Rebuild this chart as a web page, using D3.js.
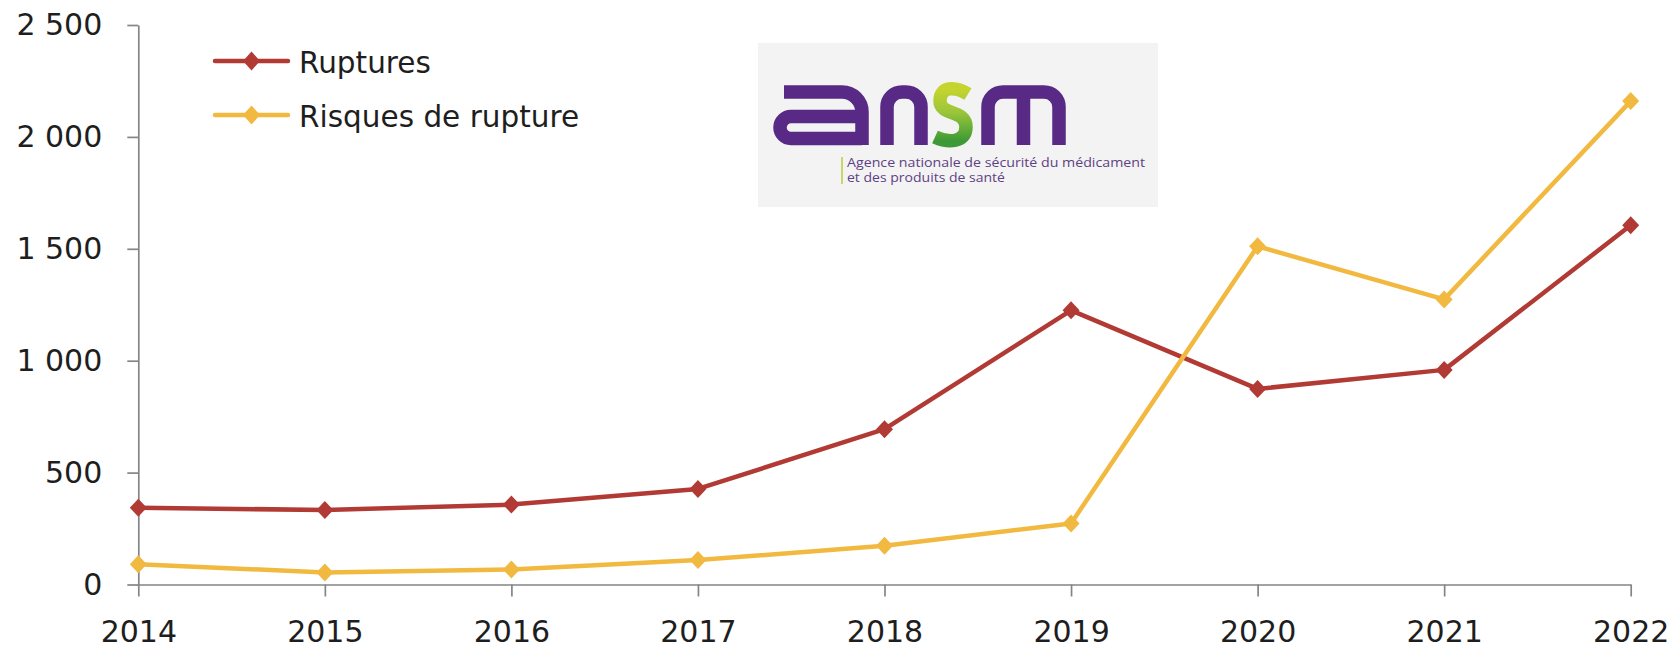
<!DOCTYPE html>
<html>
<head>
<meta charset="utf-8">
<script src="https://cdn.jsdelivr.net/npm/d3@7"></script>
<style>
  html, body { margin: 0; padding: 0; background: #ffffff; }
  svg { display: block; }
</style>
</head>
<body>
<svg id="chart" width="1672" height="649"></svg>
<script>
// ---- data ----
const years = ["2014","2015","2016","2017","2018","2019","2020","2021","2022"];
const ruptures = [343, 333, 357, 427, 694, 1225, 874, 959, 1605];
const risques  = [90, 54, 67, 109, 173, 273, 1511, 1274, 2160];
const seriesNames = ["Ruptures", "Risques de rupture"];
const yTicks = [0, 500, 1000, 1500, 2000, 2500];
const logoLines = ["Agence nationale de sécurité du médicament", "et des produits de santé"];

// ---- layout / style ----
const W = 1672, H = 649;
const plotLeft = 138.3, plotRight = 1630.7, plotTop = 25, plotBottom = 584.5;
const colors = ["#B23A34", "#F2B940"];
const axisColor = "#858585";
const textColor = "#1e1e1e";
const font = "'DejaVu Sans', sans-serif";

const svg = d3.select("#chart");
svg.append("rect").attr("width", W).attr("height", H).attr("fill", "#fff");

const x = d3.scalePoint().domain(years).range([plotLeft, plotRight]);
const y = d3.scaleLinear().domain([0, 2500]).range([plotBottom, plotTop]);

const fr = d3.formatLocale({decimal: ",", thousands: "\u00a0", grouping: [3], currency: ["", " €"]});
const fmt = fr.format(",d");

// ---- logo (decorative) ----
const logo = svg.append("g").attr("class", "logo");
logo.append("rect").attr("x", 758).attr("y", 43).attr("width", 400).attr("height", 164).attr("fill", "#f3f3f3");
const defs = svg.append("defs");
const grad = defs.append("linearGradient").attr("id", "sgrad").attr("x1", 0).attr("y1", 0).attr("x2", 0).attr("y2", 1);
grad.append("stop").attr("offset", "0%").attr("stop-color", "#c6d52e");
grad.append("stop").attr("offset", "45%").attr("stop-color", "#9cc53a");
grad.append("stop").attr("offset", "100%").attr("stop-color", "#3e9a36");
const purple = "#582a86";
const lg = logo.append("g").attr("fill", "none").attr("stroke-width", 13.5).attr("stroke-linecap", "butt").attr("stroke-linejoin", "round");
// a
lg.append("path").attr("stroke", purple).attr("d", "M784,92 H842 A20 20 0 0 1 862,112 V145");
lg.append("path").attr("stroke", purple).attr("d", "M862,116.5 H791 A11 11 0 0 0 791,138.5 H862");
// n
lg.append("path").attr("stroke", purple).attr("d", "M887,145 V107 A15 15 0 0 1 902,92 H906 A15 15 0 0 1 921,107 V145");
// s
lg.append("path").attr("stroke", "url(#sgrad)").attr("d", "M968,94 C955,86 940,86 940,101 C940,116 966,109 966,127 C966,143 948,143 935,137");
// m
lg.append("path").attr("stroke", purple).attr("d", "M988,145 V107 A15 15 0 0 1 1003,92 H1044 A15 15 0 0 1 1059,107 V145");
lg.append("path").attr("stroke", purple).attr("d", "M1023.5,94 V145");
logo.append("line").attr("x1", 842).attr("x2", 842).attr("y1", 157).attr("y2", 184)
  .attr("stroke", "#c9d66e").attr("stroke-width", 2);
logo.selectAll("text.sub").data(logoLines).join("text")
  .attr("class", "sub")
  .attr("x", 847).attr("y", (d, i) => 167 + i * 15)
  .attr("font-family", "'Open Sans', sans-serif").attr("font-size", 12.5)
  .attr("fill", "#5e4184")
  .attr("textLength", (d, i) => i === 0 ? 298 : 158)
  .attr("lengthAdjust", "spacingAndGlyphs")
  .text(d => d);

// ---- axes ----
const yAxis = d3.axisLeft(y).tickValues(yTicks).tickFormat(fmt).tickSize(11).tickSizeOuter(0).tickPadding(25);
const gy = svg.append("g").attr("transform", `translate(${plotLeft},0)`).call(yAxis);
const xAxis = d3.axisBottom(x).tickSize(12).tickSizeOuter(0).tickPadding(24);
const gx = svg.append("g").attr("transform", `translate(0,${plotBottom})`).call(xAxis);
[gy, gx].forEach(g => {
  g.select(".domain").attr("stroke", axisColor).attr("stroke-width", 1.7);
  g.selectAll(".tick line").attr("stroke", axisColor).attr("stroke-width", 1.7);
  g.selectAll(".tick text").attr("fill", textColor).attr("font-family", font).attr("font-size", 30);
});

// ---- series ----
const diamond = (hw, hh) => `M0,${-hh} L${hw},0 L0,${hh} L${-hw},0 Z`;
const line = d3.line().x((d, i) => x(years[i])).y(d => y(d));
const allSeries = [ruptures, risques];
allSeries.forEach((vals, s) => {
  const g = svg.append("g");
  g.append("path").datum(vals).attr("d", line)
    .attr("fill", "none").attr("stroke", colors[s]).attr("stroke-width", 4.5).attr("stroke-linejoin", "round");
  g.selectAll("path.m").data(vals).join("path").attr("class", "m")
    .attr("transform", (d, i) => `translate(${x(years[i])},${y(d)})`)
    .attr("d", diamond(8.5, 9)).attr("fill", colors[s]);
});

// ---- legend ----
const leg = svg.append("g");
seriesNames.forEach((name, i) => {
  const ly = 61 + i * 54;
  leg.append("line").attr("x1", 215).attr("x2", 288).attr("y1", ly).attr("y2", ly)
    .attr("stroke", colors[i]).attr("stroke-width", 4.5).attr("stroke-linecap", "round");
  leg.append("path").attr("transform", `translate(251.5,${ly})`).attr("d", diamond(8.5, 9.5)).attr("fill", colors[i]);
  leg.append("text").attr("x", 299).attr("y", ly + 12).attr("font-family", font).attr("font-size", 29.5)
    .attr("fill", textColor).text(name);
});
</script>
</body>
</html>
